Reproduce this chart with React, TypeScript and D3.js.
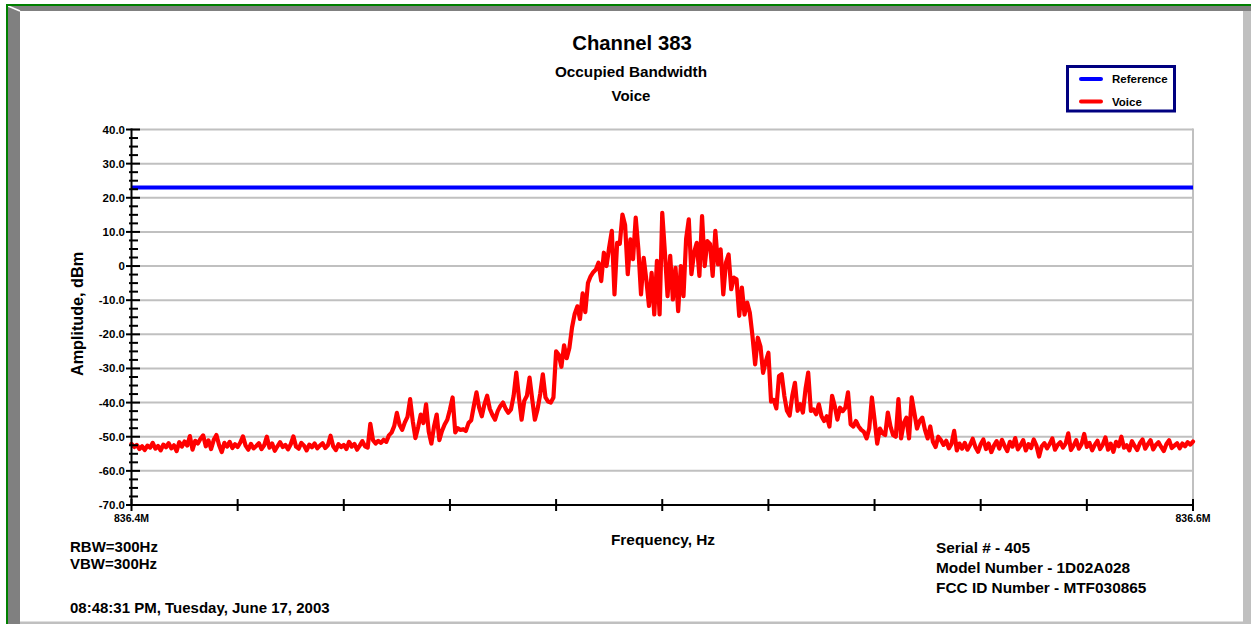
import React from "react";
import * as d3 from "d3";

// amplitude trace (dBm), 401 sweep points from 836.4 MHz to 836.6 MHz
const leftFloor = [
  -52.1, -53.0, -52.4, -53.6, -52.8, -53.9, -52.6, -53.2, -51.8, -53.5,
  -52.7, -54.0, -52.3, -53.1, -51.9, -53.4, -52.5, -54.2, -51.6, -52.9,
  -51.4, -52.6, -49.8, -53.8, -51.2, -52.0, -50.6, -49.6, -52.8, -51.1,
  -53.6, -50.9, -49.5, -52.4, -54.5, -51.8, -52.9, -51.5, -53.3, -52.2,
  -53.0, -51.7, -49.9, -52.6, -53.8, -52.1, -53.4, -52.7, -51.9, -53.6,
  -52.5, -50.0, -53.2, -52.0, -54.1, -52.8, -51.6, -53.0, -52.4, -53.7,
  -52.2, -49.9, -52.9, -53.5, -51.8, -52.6, -54.0, -52.3, -53.1, -52.0,
  -53.4, -52.6, -51.9, -53.3, -52.5, -49.7, -52.8, -53.9, -52.2, -53.0,
  -52.4, -53.6, -51.5, -52.9, -52.1, -53.8, -52.6, -51.3, -52.8, -53.2,
];

const leftShoulder = [
  -46.2, -51.0, -52.0, -51.2, -51.8, -50.9, -51.5, -49.6, -48.8, -46.9,
  -43.0, -46.5, -48.0, -45.8, -44.2, -39.0, -45.5, -50.4, -47.2, -43.5,
  -46.0, -40.5, -48.5, -52.0, -47.0, -43.5, -51.0, -48.3, -46.4, -45.0,
  -42.0, -38.5, -48.7, -47.5, -48.0, -47.8, -48.3, -46.0, -45.2, -41.0,
  -37.0, -41.5, -44.0, -40.5, -38.0, -41.8, -43.6, -45.0, -42.5, -41.0,
  -40.0, -41.8, -43.0, -42.0, -38.0, -31.2, -38.5, -45.0, -39.5, -38.0,
  -32.7, -39.0, -45.0, -42.0, -37.5, -31.7, -38.5, -39.7,
];

const core = [
  -40.0, -38.5, -25.0, -26.0, -29.5, -23.2, -27.0, -24.0, -18.0, -14.0,
  -11.8, -15.5, -8.0, -13.5, -5.0, -3.0, -1.8, -1.0, 1.0, -4.4,
  3.9, 0.0, 5.5, 10.3, -8.3, 6.8, 6.5, 15.1, 12.0, -2.4,
  7.8, 2.0, 14.2, 5.0, -8.3, 2.4, -4.0, -11.7, -2.0, -14.2,
  1.5, -14.2, 15.6, 4.0, -8.8, 3.0, -9.8, -0.5, -13.2, 0.0,
  -8.8, 8.0, 13.7, -2.4, 4.0, 6.8, -2.9, 14.6, 0.0, 7.3,
  6.5, -2.9, 10.3, 0.5, 4.9, -8.3, 1.0, 3.4, -6.8, -3.4,
  -3.9, -14.6, -6.3, -14.2, -10.7, -13.7, -20.5, -28.8, -21.0, -23.5,
  -31.3, -28.0, -25.4, -39.7, -39.2, -41.7, -32.2,
];

const rightShoulder = [
  -31.7, -38.0, -42.4, -43.8, -38.0, -34.2, -42.4, -40.5, -42.9, -36.0,
  -31.2, -42.4, -42.0, -43.4, -40.5, -44.0, -45.4, -44.0, -47.0, -38.0,
  -41.0, -45.0, -41.5, -42.5, -41.5, -37.0, -46.4, -47.0, -45.4, -47.0,
  -48.0, -48.6, -50.5, -47.6, -38.5, -45.0, -52.0, -47.6, -49.0, -49.5,
  -42.9, -47.0, -49.5, -50.0, -39.0, -50.5, -46.0, -44.4, -50.5, -38.5,
  -43.0, -47.6, -45.4, -44.4, -48.0, -50.5, -47.0, -51.5, -53.0, -50.0,
];

const rightFloor = [
  -51.0, -52.4, -51.2, -53.4, -52.1, -48.3, -54.0, -52.0, -53.5, -51.8,
  -53.8, -52.4, -50.6, -53.0, -54.4, -52.2, -50.8, -53.6, -52.0, -54.5,
  -52.6, -51.3, -53.5, -50.9, -52.7, -54.2, -51.5, -52.9, -50.4, -53.7,
  -52.5, -51.0, -54.0, -52.2, -53.3, -50.8, -52.6, -55.8, -52.8, -51.9,
  -53.4, -52.1, -50.5, -53.8, -52.4, -51.6, -53.2, -52.0, -49.0, -53.9,
  -52.6, -51.0, -53.5, -52.2, -49.2, -53.0, -51.8, -54.0, -52.4, -51.2,
  -53.6, -52.3, -50.2, -53.8, -52.0, -54.4, -51.5, -52.8, -50.0, -53.2,
  -52.5, -54.0, -51.3, -52.7, -53.9, -51.9, -50.8, -53.5, -52.2, -51.0,
  -53.7, -52.4, -51.6, -53.0, -54.2, -52.1, -51.0, -53.3, -52.6, -51.9,
  -53.4, -52.0, -52.8, -51.6, -52.3, -51.4,
];

const voice = [...leftFloor, ...leftShoulder, ...core, ...rightShoulder, ...rightFloor];
const referenceLevel = 23;

const freqStart = 836.4;
const freqStop = 836.6;
const yMajorTicks = [40, 30, 20, 10, 0, -10, -20, -30, -40, -50, -60, -70];
const yTickLabels = ["40.0", "30.0", "20.0", "10.0", "0", "-10.0", "-20.0", "-30.0", "-40.0", "-50.0", "-60.0", "-70.0"];
const xEndLabels = ["836.4M", "836.6M"];

const W = 1251;
const H = 624;
const left = 131.5;
const right = 1193;
const top = 129.5;
const bottom = 505;
const font = "Arial, 'Liberation Sans', sans-serif";

const App = () => {
  const x = d3.scaleLinear().domain([freqStart, freqStop]).range([left, right]);
  const y = d3.scaleLinear().domain([-70, 40]).range([bottom, top]);

  const step = (freqStop - freqStart) / (voice.length - 1);
  const voicePts: [number, number][] = voice.map((v, i) => [freqStart + i * step, v]);
  const line = d3
    .line<[number, number]>()
    .x((d) => x(d[0]))
    .y((d) => y(d[1]));

  const minorTicks = d3.range(-70, 40.01, 2.5).filter((v) => v % 10 !== 0);
  const xTicks = d3.range(11).map((i) => freqStart + i * 0.02);

  return (
    <svg
      width={W}
      height={H}
      style={{ position: "absolute", left: 0, top: 0, display: "block", background: "#fff" }}
      fontFamily={font}
      fontWeight="bold"
    >
      {/* frame */}
      <polygon points={`8,6 ${W},6 ${W},11 20,11`} fill="#808080" />
      <polygon points={`8,6 20,11 20,${H} 8,${H}`} fill="#808080" />
      <line x1={8} y1={6} x2={20} y2={11} stroke="#fff" strokeWidth={1.5} />
      <rect x={1243} y={11} width={8} height={H - 11} fill="#c0c0c0" />
      <rect x={20} y={621.5} width={1223} height={2.5} fill="#c0c0c0" />
      <line x1={7} y1={5} x2={W} y2={5} stroke="#008000" strokeWidth={2} />
      <line x1={7} y1={4} x2={7} y2={H} stroke="#008000" strokeWidth={2} />

      {/* titles */}
      <text x={632} y={50} fontSize={20.3} textAnchor="middle" fill="#000">Channel 383</text>
      <text x={631} y={77} fontSize={15.3} textAnchor="middle" fill="#000">Occupied Bandwidth</text>
      <text x={631} y={101} fontSize={15} textAnchor="middle" fill="#000">Voice</text>

      {/* grid */}
      {yMajorTicks.map((t) => (
        <line key={"g" + t} x1={left} x2={right} y1={y(t)} y2={y(t)} stroke="#c0c0c0" strokeWidth={2} />
      ))}
      <line x1={right} x2={right} y1={top - 1} y2={bottom} stroke="#c0c0c0" strokeWidth={2} />

      {/* reference + voice */}
      <line x1={left} x2={right} y1={y(referenceLevel)} y2={y(referenceLevel)} stroke="#0000ff" strokeWidth={4} />
      <path d={line(voicePts) || ""} fill="none" stroke="#ff0000" strokeWidth={4.2} strokeLinejoin="round" strokeLinecap="round" />

      {/* y axis */}
      <line x1={left} x2={left} y1={top - 1} y2={bottom + 1} stroke="#000" strokeWidth={2} />
      {yMajorTicks.map((t, i) => (
        <g key={"yt" + t}>
          <line x1={126} x2={140} y1={y(t)} y2={y(t)} stroke="#000" strokeWidth={2} />
          <text x={125} y={y(t)} dy="0.35em" fontSize={11.5} textAnchor="end" fill="#000">
            {yTickLabels[i]}
          </text>
        </g>
      ))}
      {minorTicks.map((t) => (
        <line key={"ym" + t} x1={129} x2={138} y1={y(t)} y2={y(t)} stroke="#000" strokeWidth={2} />
      ))}

      {/* x axis */}
      <line x1={left} x2={right + 1} y1={bottom} y2={bottom} stroke="#000" strokeWidth={2} />
      {xTicks.map((t, i) => (
        <line key={"xt" + i} x1={x(t)} x2={x(t)} y1={499} y2={511} stroke="#000" strokeWidth={2} />
      ))}
      <text x={x(freqStart)} y={522} fontSize={10.5} textAnchor="middle" fill="#000">{xEndLabels[0]}</text>
      <text x={x(freqStop)} y={522} fontSize={10.5} textAnchor="middle" fill="#000">{xEndLabels[1]}</text>

      <text x={663} y={545} fontSize={15.4} textAnchor="middle" fill="#000">Frequency, Hz</text>
      <text transform="translate(83,314) rotate(-90)" fontSize={16.2} textAnchor="middle" fill="#000">
        Amplitude, dBm
      </text>

      {/* legend */}
      <rect x={1067.5} y={66.5} width={107} height={44.5} fill="#fff" stroke="#000080" strokeWidth={3} />
      <line x1={1081} x2={1101} y1={79} y2={79} stroke="#0000ff" strokeWidth={4} strokeLinecap="round" />
      <line x1={1081} x2={1101} y1={101.5} y2={101.5} stroke="#ff0000" strokeWidth={4} strokeLinecap="round" />
      <text x={1112} y={79} dy="0.35em" fontSize={11.5} fill="#000">Reference</text>
      <text x={1112} y={102} dy="0.35em" fontSize={11.5} fill="#000">Voice</text>

      {/* notes */}
      <text x={70} y={552} fontSize={15} fill="#000">RBW=300Hz</text>
      <text x={70} y={569} fontSize={15} fill="#000">VBW=300Hz</text>
      <text x={70} y={613} fontSize={15} fill="#000">08:48:31 PM, Tuesday, June 17, 2003</text>
      <text x={936} y={553} fontSize={15.4} fill="#000">Serial # - 405</text>
      <text x={936} y={573} fontSize={15.4} fill="#000">Model Number - 1D02A028</text>
      <text x={936} y={593} fontSize={15.4} fill="#000">FCC ID Number - MTF030865</text>
    </svg>
  );
};

export default App;
